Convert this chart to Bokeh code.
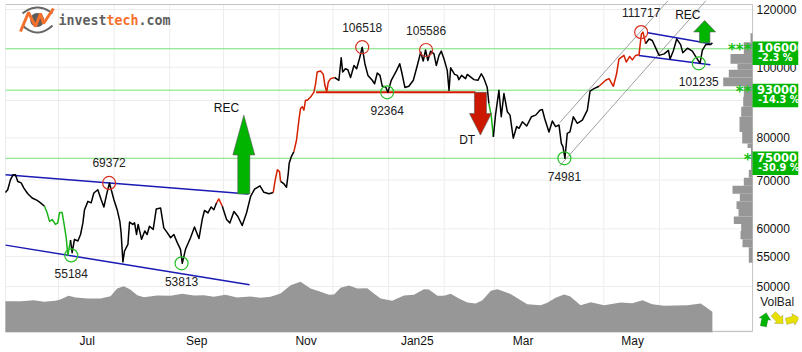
import math
import numpy as np
from bokeh.core.properties import value
from bokeh.embed import file_html
from bokeh.models import (BoxAnnotation, ColumnDataSource, FixedTicker, Label, LinearScale,
                          NumeralTickFormatter, PolyAnnotation, Range1d)
from bokeh.plotting import figure
from bokeh.resources import INLINE

# ---- data (x = days since 2024-07-01) ----------------------------------------------------
price_day = [-29.6,-28.3,-26.8,-25.3,-24,-22.7,-20.8,-19.3,-17.1,-14.7,-11.9,-10,-7.8,-6.3,-5,-3.5,-1.7,-0.4,0.6,2,3,4.3,5.2,6.7,7.6,8.9,10.8,12.3,13.6,14.5,16.4,18.2,19.7,21.9,23.8,25.3,26.8,28.4,29.4,30.9,32.7,34.2,34.9,35.9,36.8,38.7,39.6,41.4,42.4,43.5,44.4,46.3,48.1,49.4,50.7,52.8,54.5,56.9,58.7,60.6,62.5,64.3,66.2,68,69,70.8,73.6,75.8,78.3,80.1,81.4,83.3,85.1,86.6,88.1,89.4,91.3,93.7,95.5,97.8,100,102.4,104.8,107.1,109.3,112.3,114.5,117.3,119.7,120.8,122,123.2,123.8,125.7,127.1,128,128.6,129.8,131.2,132.7,134,134.9,135.9,136.8,137.7,138.7,140.5,142.4,143.3,144.2,146.1,147.6,148.5,149.5,150.4,151.7,153.9,156.3,157.6,158.4,159.9,161.3,162.8,164.7,166.2,168,169.3,170.8,172.5,174.9,176.2,177.7,179.2,180.5,182.4,183.6,185.5,188.5,190.2,191.3,193.1,195.3,197.8,200,201.9,203.3,204.6,205.9,207.4,209.3,210.6,212.1,213.4,214.9,216.7,217.7,218.6,220.8,222.3,223.2,224.7,226.9,227.9,231.6,233.8,235.7,237.2,239,239.9,241.2,242.4,243.6,245.5,246.8,248.3,250.2,251.7,253.5,255.4,256.7,258.6,261,263.6,266,268.4,269.7,271,273.4,275.3,277.1,279,280.3,281.2,282.3,283.6,285.1,287,289.2,292,294.8,296.3,298.5,301.3,305,306.9,309.3,311.1,312.4,315.2,316.5,318.4,319.9,321.7,323.6,324.9,325.8,327.3,329.2,331,333.5,334.8,337.6,340,340.9,342.8,344.6,346.8,348,350.6,353.3,356.1,357.6,358.9,360.8,363.6,364.5]
price_close = [67300,67900,70050,71200,71200,69700,69400,68250,67050,66150,65650,65150,64450,63100,61450,61800,60850,61150,63200,63200,61150,58350,55184,57900,55650,58050,57750,58950,61150,63750,65450,65150,67200,67900,65800,64300,66850,69372,67900,65800,63750,61450,59300,54050,55950,57150,61300,60850,61150,58950,60850,58050,59600,58950,60500,59900,63900,64100,60200,59300,58350,58950,57450,56250,53813,56250,58350,60350,58200,61800,63600,63100,64300,63750,65150,65950,64450,61800,61150,63400,62400,60650,63100,66500,68050,68750,67350,67050,67300,70050,72300,71900,69700,69150,68450,71200,73850,75400,76600,79450,84600,87750,88250,87300,90100,90100,91000,92450,94900,98500,98800,97750,94450,92450,95450,96450,96800,95950,103050,98500,99500,99200,96800,100550,99500,103250,106518,101100,97450,95950,94900,98200,97450,94150,93950,92364,95950,99000,101100,98500,93800,94150,95950,100550,104900,101950,105586,102150,105200,104300,100550,103800,105200,102600,99000,92950,99800,97750,97450,96150,97450,96450,97750,96150,95950,97950,96450,93800,89150,85950,80250,85950,92950,85500,92000,86850,85950,79900,82900,82450,84150,83050,85500,85950,87300,87500,85050,81500,84350,82900,83300,78600,77800,74981,81150,81500,85500,83750,84600,87300,92750,93450,94150,95950,96450,94150,97950,102600,103800,101650,103450,102350,103800,104000,111000,111717,107750,109300,108800,105450,103800,104300,105450,102600,105450,109300,107400,104700,106200,105200,102600,101235,105450,107400,107400,108000]
red_spans = [(88.1, 91.3), (119.7, 123.8), (131.2, 153.9), (301.3, 327.3)]
green_spans = [(-7.8, 6.7), (239.9, 242.4)]

volume_day = [-29.6,-21,-13.7,-8,-1.7,1,5.6,9.5,16,23.4,29,32.7,36.4,40,43.9,47.6,55,62.5,69,75.5,81,86.6,93,99.6,107,112.6,118.2,123.8,129.4,134.9,140.5,146.1,150.8,153.6,157.3,161.9,166.6,172.1,175.8,179.6,186,192.6,198.1,203.7,206.5,211.2,214.9,218.6,223.2,227.9,232.5,236.3,241,244.7,252.2,261.3,268.8,272.5,277.1,281.8,285.1,291,296.7,304.1,313.4,319.9,325.5,331,337.6,350.6,358,364.5]
volume_level = [31.3,31.3,32.3,30.7,31.7,33,36.7,35,34,34,36.3,44,46.3,43,37.3,35.3,37,36.7,38.7,37,37.3,35.7,37.7,35,36,34.7,35.7,39,47.3,50.7,44,40.7,37.7,38,44.7,47,44,44.3,39,34,31.7,37,37.7,43.3,43,36.7,36.7,38.7,34,30,29,32.3,41.7,43.3,38.3,28.3,27.3,29.7,34.7,38,36.3,27.3,30.3,27.3,30,29.3,32.3,28.3,26.7,27.3,29,20.7]

profile_edges = [111300,108200,104300,101100,99200,96800,94150,91000,88250,85500,81500,78600,77500,74600,72300,70500,68750,67050,65450,63900,62400,60950,59600,58050,56600,53900]
profile_weight = [2,8.7,22,15,23.7,29.3,8.7,9.3,11.3,13,10.3,5,1.5,1.5,3.7,8.7,20,12.7,16,14,18.7,11.3,12,10,3.7]

extreme_day = [28.2, 7.1, 68.6, 169.3, 183.2, 204.9, 282, 324.8, 356.9]
extreme_price = [69372, 55184, 53813, 106518, 92364, 105586, 74981, 111717, 101235]
extreme_kind = ["high", "low", "low", "high", "low", "high", "low", "high", "low"]

support_levels = [106000, 93000, 75000]
support_pct = ["-2.3 %", "-14.3 %", "-30.9 %"]
support_stars = ["***", "**", "*"]

y_ticks = [120000, 100000, 90000, 80000, 70000, 60000, 55000, 50000]
month_starts = [0, 31, 62, 92, 123, 153, 184, 215, 243, 274, 304, 335]
month_label_days = [16, 77, 138, 200, 259, 320]
month_labels = ["Jul", "Sep", "Nov", "Jan25", "Mar", "May"]

channel_blue = [((-29.5, 71200), (105.9, 67000)), ((-29.5, 57000), (106.5, 50300)),
                ((328.5, 111500), (363.4, 107700)), ((323.5, 103800), (363.4, 100750))]
channel_gray = [((279.4, 83950), (339.8, 123460)), ((279.4, 73200), (361, 123460))]
resistance = ((143.6, 232.4), 92364)

# ---- figure ------------------------------------------------------------------------------
W, H = 798, 350
DAY_L, DAY_R = -29.54, 386.9      # the plotted window, inside the wider frame
P_TOP, P_BOTTOM = 121910, 43400
p = figure(width=W, height=H, output_backend="svg", toolbar_location=None,
           y_axis_type="log", y_axis_location="right",
           x_range=Range1d(-32.33, 412.5), y_range=Range1d(43250, 123460),
           frame_width=798, frame_height=332,
           min_border_left=0, min_border_top=0, min_border_right=0, min_border_bottom=18,
           background_fill_color="white", border_fill_color="white",
           outline_line_color=None, margin=(0, 0, 0, 0))
p.extra_y_ranges = {"vol": Range1d(0, 332)}
p.extra_y_scales = {"vol": LinearScale()}
p.extra_x_ranges = {"prof": Range1d(-752, 46)}
p.extra_x_scales = {"prof": LinearScale()}
p.xgrid.visible = False
p.ygrid.visible = False

FONT = "Liberation Sans"
for ax in (p.xaxis[0], p.yaxis[0]):
    ax.axis_line_color = None
    ax.major_tick_line_color = None
    ax.minor_tick_line_color = None
    ax.major_label_text_font = FONT
    ax.major_label_text_font_size = "12px"
    ax.major_label_text_color = "#111111"
p.xaxis[0].ticker = FixedTicker(ticks=month_label_days)
p.xaxis[0].major_label_overrides = dict(zip(month_label_days, month_labels))
p.xaxis[0].major_label_standoff = -5
p.yaxis[0].ticker = FixedTicker(ticks=y_ticks)
p.yaxis[0].formatter = NumeralTickFormatter(format="0")
p.yaxis[0].major_label_standoff = -48


def to_day(px):
    return (px - 58) / 1.794


def to_price(py):
    return 120000 * math.exp(-(py - 9) / 316.5)


# grid and plot border
GRID = "#ececec"
EDGE = "#c4c4c4"
p.segment(x0=month_starts, x1=month_starts, y0=[P_TOP] * len(month_starts), y1=[P_BOTTOM] * len(month_starts),
          line_color=GRID, line_width=1)
p.segment(x0=[DAY_L] * len(y_ticks), x1=[DAY_R] * len(y_ticks), y0=y_ticks, y1=y_ticks, line_color=GRID, line_width=1)
p.line([DAY_L, DAY_R, DAY_R], [P_TOP, P_TOP, P_BOTTOM], line_color=EDGE, line_width=1)
p.line([DAY_L, DAY_L], [P_TOP, P_BOTTOM], line_color=GRID, line_width=1)
p.line([DAY_L, DAY_R], [P_BOTTOM, P_BOTTOM], line_color=EDGE, line_width=1.5)

# volume panel and price profile
GRAY = "#979797"
p.varea(x=volume_day, y1=[0] * len(volume_day), y2=volume_level, fill_color=GRAY, y_range_name="vol")
p.quad(left=[-w for w in profile_weight], right=[0] * len(profile_weight),
       top=profile_edges[:-1], bottom=profile_edges[1:], fill_color=GRAY, line_color=None,
       x_range_name="prof")

# support lines
for lv in support_levels:
    p.line([DAY_L, DAY_R], [lv, lv], line_color="#74e074", line_width=1)

# channels
for a, b in channel_gray:
    p.line([a[0], b[0]], [a[1], b[1]], line_color="#a0a0a0", line_width=1)
for a, b in channel_blue:
    p.line([a[0], b[0]], [a[1], b[1]], line_color="#1a1ab4", line_width=1.5)
p.line(list(resistance[0]), [resistance[1]] * 2, line_color="#d81500", line_width=2)


# price line with trend colouring
def colour_of(d):
    if any(a <= d <= b for a, b in red_spans):
        return "#d42000"
    if any(a <= d <= b for a, b in green_spans):
        return "#18b418"
    return "#000000"


start = 0
for i in range(1, len(price_day)):
    c = colour_of((price_day[i - 1] + price_day[i]) / 2)
    nxt = colour_of((price_day[i] + price_day[i + 1]) / 2) if i + 1 < len(price_day) else None
    if nxt != c:
        p.line(price_day[start:i + 1], price_close[start:i + 1], line_color=c, line_width=1.5,
               line_join="round")
        start = i

# extremes
rings = ColumnDataSource(dict(
    x=extreme_day, y=extreme_price, t=[str(v) for v in extreme_price],
    c=["#d83020" if k == "high" else "#28c028" for k in extreme_kind],
    off=[-20 if k == "high" else 18.5 for k in extreme_kind]))
p.scatter("x", "y", source=rings, size=13, marker="circle", fill_color=None, line_color="c", line_width=1.2)
p.text("x", "y", text="t", source=rings, y_offset="off", text_align="center", text_baseline="middle",
       text_font=value(FONT), text_font_size="12px", text_color="#222222")


# signal arrows
def arrow(center, head_half, shaft_half, tip, head, base, colour):
    xs = [center, center + head_half, center + shaft_half, center + shaft_half,
          center - shaft_half, center - shaft_half, center - head_half]
    ys = [tip, head, head, base, base, head, head]
    p.patch(xs, ys, fill_color=colour, line_color="#555555", line_width=0.6)


arrow(103.3, 6.1, 3.35, 85950, 75800, 67000, "#00b400")
arrow(235.2, 6.1, 3.35, 80700, 86400, 92364, "#cc1800")
arrow(360.2, 6.1, 2.9, 115900, 111800, 108000, "#00b400")
p.text([93.6, 227.8, 350.8], [87850, 79450, 118100], text=["REC", "DT", "REC"], text_align="center",
       text_baseline="middle", text_font=value(FONT), text_font_size="12px", text_color="#111111")

# logo
ax_ = np.linspace(22, 52, 20)
top_arc = 13 - 6 * (1 - ((ax_ - 37) / 15) ** 2)
bot_arc = 25 + 7 * (1 - ((ax_ - 37) / 15) ** 2)
for arc in (top_arc, bot_arc):
    p.line([to_day(v) for v in ax_], [to_price(v) for v in arc], line_color="#666666", line_width=2)
p.scatter([to_day(36.7)], [to_price(19.5)], size=14, marker="circle", fill_color="#5c5c5c", line_color=None)
zig_x = [20, 28, 35, 40, 43, 53]
zig_y = [31, 12, 26, 13, 23, 8]
p.line([to_day(v) for v in zig_x], [to_price(v) for v in zig_y], line_color="#f4702c", line_width=3)
for txt, px, col in (("invest", 58, "#5f5f5f"), ("tech", 106, "#f4702c"), (".com", 138, "#5f5f5f")):
    p.text([to_day(px)], [to_price(20)], text=[txt], text_font=value("DejaVu Sans Mono"),
           text_font_style="bold", text_font_size="13.3px", text_color=col, text_baseline="middle")


# labels in the right margin (canvas pixels)
def label(x, y, text, size, colour="#ffffff", style="normal", font="DejaVu Sans", align="left"):
    p.add_layout(Label(x=x, y=y, x_units="canvas", y_units="canvas", text=text, text_font=font,
                       text_font_size=size, text_color=colour, text_font_style=style,
                       text_align=align, text_baseline="middle", level="overlay"))


for lv, pct, stars, top in zip(support_levels, support_pct, support_stars, (41, 83.3, 151)):
    p.add_layout(BoxAnnotation(left=752, right=798, top=top, bottom=top + 23.5, left_units="canvas",
                               right_units="canvas", top_units="canvas", bottom_units="canvas",
                               fill_color="#00b400", fill_alpha=1, line_color=None, level="overlay"))
    label(756.5, top + 6, str(lv), "11.5px", style="bold")
    label(757.5, top + 16, pct, "9.8px", style="bold")
    label(751, top + 8, stars, "15px", colour="#18c018", style="bold", align="right")

label(776.7, 301, "VolBal", "12px", colour="#222222", font=FONT, align="center")


def icon(cx, cy, angle, colour):
    shape = [(0, -7), (6, -0.5), (3.2, -0.5), (3.2, 7), (-3.2, 7), (-3.2, -0.5), (-6, -0.5)]
    a = math.radians(angle)
    xs = [cx + u * math.cos(a) - v * math.sin(a) for u, v in shape]
    ys = [cy + u * math.sin(a) + v * math.cos(a) for u, v in shape]
    p.add_layout(PolyAnnotation(xs=xs, ys=ys, xs_units="canvas", ys_units="canvas", fill_color=colour,
                                fill_alpha=1, line_color="#444444", line_width=0.7, level="overlay"))


icon(764.3, 319, 12, "#00b400")
icon(777.7, 318.3, 135, "#e8e000")
icon(792.3, 319, 75, "#e8e000")

open("out.html", "w").write(file_html(p, INLINE))
